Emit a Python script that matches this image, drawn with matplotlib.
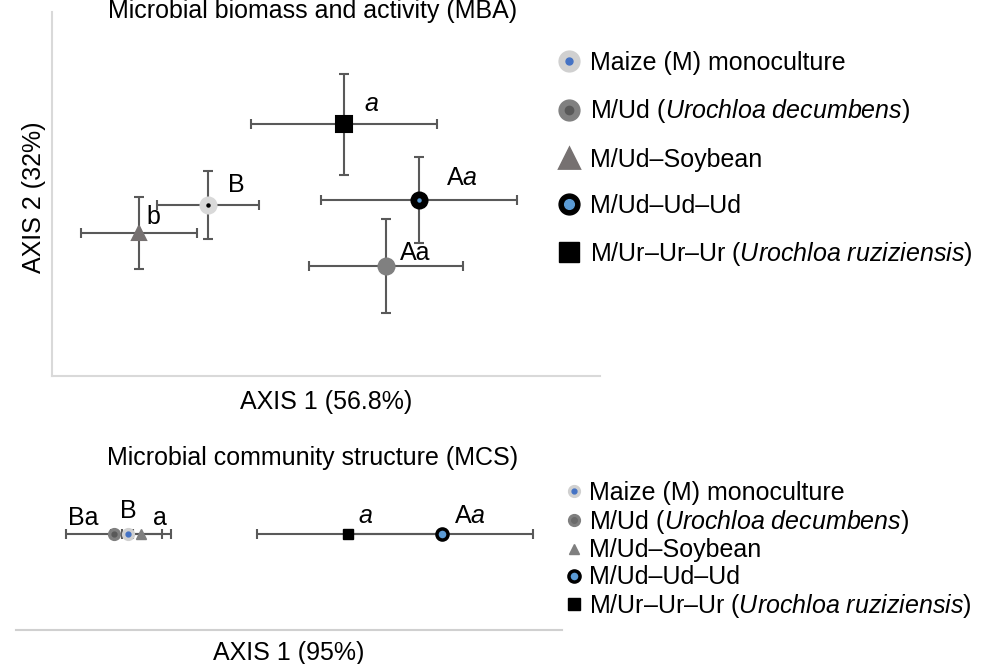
import numpy as np
import matplotlib
matplotlib.use("Agg")
import matplotlib.pyplot as plt
from matplotlib.lines import Line2D

plt.rcParams['font.family'] = ['Liberation Sans', 'DejaVu Sans']
plt.rcParams['mathtext.fontset'] = 'custom'
plt.rcParams['mathtext.rm'] = 'Liberation Sans'
plt.rcParams['mathtext.it'] = 'Liberation Sans:italic'

# treatments (legend order)
treatments = [
    'Maize (M) monoculture',
    r'M/Ud ($\mathit{Urochloa\ decumbens}$)',
    'M/Ud–Soybean',
    'M/Ud–Ud–Ud',
    r'M/Ur–Ur–Ur ($\mathit{Urochloa\ ruziziensis}$)',
]

# MBA ordination scores (mean +- error)
mba_x = [-0.431, 0.219, -0.682, 0.339, 0.066]
mba_y = [-0.060, -0.396, -0.214, -0.033, 0.382]
mba_xerr = [0.186, 0.281, 0.212, 0.358, 0.339]
mba_yerr = [0.187, 0.258, 0.198, 0.236, 0.275]
mba_letters = ['B', 'Aa', 'b', r'A$\mathit{a}$', r'$\mathit{a}$']

# MCS ordination scores on axis 1
mcs_x = [-0.590, -0.641, -0.542, 0.560, 0.216]
mcs_xerr = [0.02, 0.176, 0.110, 0.333, 0.333]
mcs_letters = ['B', 'Ba', 'a', r'A$\mathit{a}$', r'$\mathit{a}$']

# styles
bar_color = '#595959'
outer = ['#d9d9d9', '#808080', '#767171', 'black', 'black']
inner = ['black', None, None, '#5b9bd5', None]
markers = ['o', 'o', '^', 'o', 's']
mba_offsets = [(28, 20), (29, 13), (14, 16), (43, 22), (27, 20)]
mcs_offsets = [(0, 23), (-31, 16), (19, 16), (28, 18), (18, 18)]

fig = plt.figure(figsize=(10, 6.64), dpi=100)

# ---- top panel: MBA ----
ax1 = fig.add_axes([52 / 1000, 1 - 376 / 664, 548 / 1000, 364 / 664])
ax1.errorbar(mba_x, mba_y, xerr=mba_xerr, yerr=mba_yerr, fmt='none',
             ecolor=bar_color, elinewidth=1.5, capsize=3.5, capthick=1.5, zorder=1)
for i in range(len(treatments)):
    ax1.plot(mba_x[i], mba_y[i], marker=markers[i], ms=11.5 if markers[i] != '^' else 10,
             mfc=outer[i], mec=outer[i], mew=1.5, ls='none', zorder=3)
    if inner[i] is not None:
        ax1.plot(mba_x[i], mba_y[i], marker='o', ms=2.2, mfc=inner[i], mec=inner[i],
                 ls='none', zorder=4)
    ax1.annotate(mba_letters[i], (mba_x[i], mba_y[i]), xytext=mba_offsets[i],
                 textcoords='offset pixels', ha='center', va='center', fontsize=18)
ax1.set_xlim(-1.0, 1.0)
ax1.set_ylim(-1.0, 1.0)
ax1.set_xticks([])
ax1.set_yticks([])
for s in ['top', 'right']:
    ax1.spines[s].set_visible(False)
for s in ['left', 'bottom']:
    ax1.spines[s].set_color('#d9d9d9')
    ax1.spines[s].set_linewidth(1.5)
ax1.set_xlabel('AXIS 1 (56.8%)', fontsize=18)
ax1.xaxis.set_label_coords(0.5, -0.038)
ax1.set_ylabel('AXIS 2 (32%)', fontsize=18)
ax1.yaxis.set_label_coords(-0.011, 0.49)
fig.text(313 / 1000, 1 - 18 / 664, 'Microbial biomass and activity (MBA)',
         ha='center', va='baseline', fontsize=18)

leg1_handles = [
    (Line2D([], [], marker='o', ms=15, mfc='#d0d0d0', mec='#d0d0d0', ls='none'),
     Line2D([], [], marker='o', ms=5, mfc='#4472c4', mec='#4472c4', ls='none')),
    (Line2D([], [], marker='o', ms=15, mfc='#808080', mec='#808080', ls='none'),
     Line2D([], [], marker='o', ms=6, mfc='#595959', mec='#595959', ls='none')),
    Line2D([], [], marker='^', ms=15, mfc='#767171', mec='#767171', mew=2, ls='none'),
    (Line2D([], [], marker='o', ms=15, mfc='black', mec='black', ls='none'),
     Line2D([], [], marker='o', ms=7, mfc='#5b9bd5', mec='#5b9bd5', ls='none')),
    Line2D([], [], marker='s', ms=14, mfc='black', mec='black', ls='none'),
]
ax1.legend(leg1_handles, treatments, loc='upper left',
           bbox_to_anchor=(555 / 1000, 1 - 51 / 664), bbox_transform=fig.transFigure,
           frameon=False, fontsize=18, handlelength=1.1, handletextpad=0.32,
           labelspacing=0.89, borderpad=0, borderaxespad=0)

# ---- bottom panel: MCS ----
ax2 = fig.add_axes([16 / 1000, 1 - 630 / 664, 546 / 1000, 160 / 664])
mcs_y = np.zeros(len(mcs_x))
ax2.errorbar(mcs_x, mcs_y, xerr=mcs_xerr, fmt='none',
             ecolor=bar_color, elinewidth=1.5, capsize=3.5, capthick=1.5, zorder=1)
bottom_inner = ['#4472c4', '#595959', None, '#5b9bd5', None]
bottom_outer = ['#d0d0d0', '#7f7f7f', '#7f7f7f', 'black', 'black']
for i in range(len(treatments)):
    if i == 3:
        ax2.plot(mcs_x[i], mcs_y[i], marker='o', ms=8, mfc='#5b9bd5', mec='black',
                 mew=2.5, ls='none', zorder=3)
    else:
        ax2.plot(mcs_x[i], mcs_y[i], marker=markers[i],
                 ms=8.5 if markers[i] == 'o' else 7.5,
                 mfc=bottom_outer[i], mec=bottom_outer[i], ls='none', zorder=3)
        if bottom_inner[i] is not None:
            ax2.plot(mcs_x[i], mcs_y[i], marker='o', ms=3.5, mfc=bottom_inner[i],
                     mec=bottom_inner[i], ls='none', zorder=4)
    ax2.annotate(mcs_letters[i], (mcs_x[i], mcs_y[i]), xytext=mcs_offsets[i],
                 textcoords='offset pixels', ha='center', va='center', fontsize=18)
ax2.set_xlim(-1.0, 1.0)
ax2.set_ylim(-1.2, 0.8)
ax2.set_xticks([])
ax2.set_yticks([])
for s in ['top', 'right', 'left']:
    ax2.spines[s].set_visible(False)
ax2.spines['bottom'].set_color('#d0d0d0')
ax2.spines['bottom'].set_linewidth(1.5)
ax2.set_xlabel('AXIS 1 (95%)', fontsize=18)
ax2.xaxis.set_label_coords(0.5, -0.07)
fig.text(313 / 1000, 1 - 465 / 664, 'Microbial community structure (MCS)',
         ha='center', va='baseline', fontsize=18)

leg2_handles = [
    (Line2D([], [], marker='o', ms=8.5, mfc='#d0d0d0', mec='#d0d0d0', ls='none'),
     Line2D([], [], marker='o', ms=3.5, mfc='#4472c4', mec='#4472c4', ls='none')),
    (Line2D([], [], marker='o', ms=8.5, mfc='#7f7f7f', mec='#7f7f7f', ls='none'),
     Line2D([], [], marker='o', ms=4, mfc='#6a6a6a', mec='#6a6a6a', ls='none')),
    Line2D([], [], marker='^', ms=7.5, mfc='#7f7f7f', mec='#7f7f7f', ls='none'),
    Line2D([], [], marker='o', ms=8, mfc='#5b9bd5', mec='black', mew=2.5, ls='none'),
    Line2D([], [], marker='s', ms=8, mfc='black', mec='black', ls='none'),
]
ax2.legend(leg2_handles, treatments, loc='upper left',
           bbox_to_anchor=(563 / 1000, 1 - 481 / 664), bbox_transform=fig.transFigure,
           frameon=False, fontsize=18, handlelength=0.9, handletextpad=0.15,
           labelspacing=0.11, borderpad=0, borderaxespad=0)

fig.savefig('out.png', dpi=100)
